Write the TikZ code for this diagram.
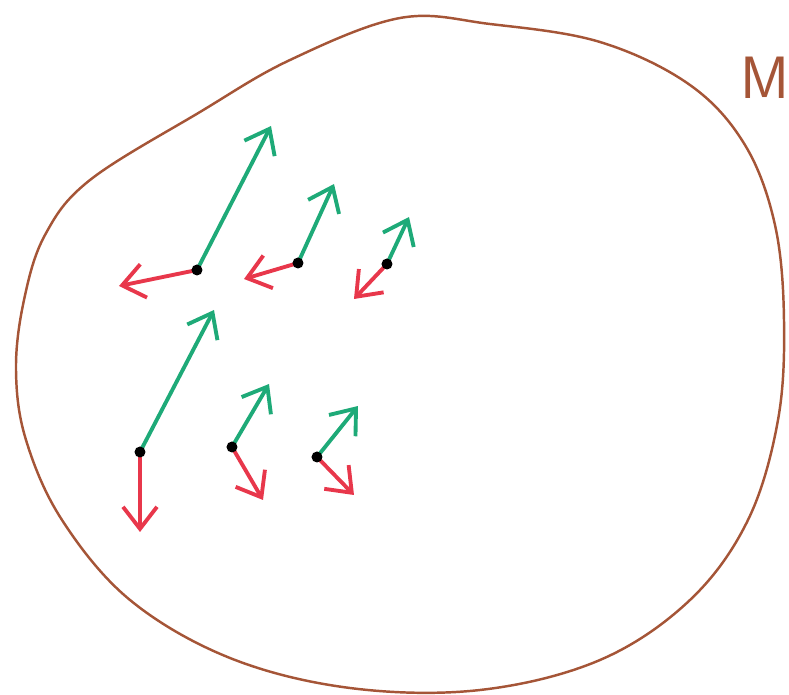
\documentclass[tikz,border=0pt]{standalone}
\usepackage{tikz}
\usetikzlibrary{arrows.meta,positioning}
\definecolor{inkbrown}{RGB}{165,85,55}
\definecolor{inkgreen}{RGB}{30,170,120}
\definecolor{inkred}{RGB}{232,55,75}
\tikzset{pt/.style={circle, fill=black, inner sep=0pt, minimum size=1.1mm}, gvec/.style={-{Straight Barb[length=2.2mm,width=3.4mm]}, inkgreen, line width=1.1pt, line cap=round}, rvec/.style={-{Straight Barb[length=2.2mm,width=3.4mm]}, inkred, line width=1.1pt, line cap=round}}
\begin{document}
\begin{tikzpicture}[x=0.1mm, y=-0.1mm]
\useasboundingbox (0,0) rectangle (789,695);
% manifold outline
\draw[inkbrown, line width=0.7pt] plot[smooth cycle, tension=0.6] coordinates {(90,180) (200,112) (290,60) (400,18) (490,24) (600,42) (690,85) (745,145) (775,225) (784,320) (778,420) (748,520) (690,600) (600,660) (480,690) (350,688) (230,658) (130,600) (62,520) (26,440) (16,370) (24,300) (45,235)};
\node[inkbrown, font=\fontsize{17}{19}\sffamily] (lab) at (765,78) {M};
% vector tips
\coordinate (g1) at (271,126);
\coordinate (r1) at (119,286);
\coordinate (g2) at (334,184);
\coordinate (r2) at (244,279);
\coordinate (g3) at (409,217);
\coordinate (r3) at (354,299);
\coordinate (g4) at (214,310);
\coordinate (r4) at (140,532);
\coordinate (g5) at (269,384);
\coordinate (r5) at (263,500);
\coordinate (g6) at (358,406);
\coordinate (r6) at (354,495);
% base points
\coordinate (b1) at (197,270);
\coordinate (b2) at (298,263);
\coordinate (b3) at (387,264);
\coordinate (b4) at (140,452);
\coordinate (b5) at (232,447);
\coordinate (b6) at (317,457);
\draw[gvec] (b1) -- (g1);
\draw[rvec] (b1) -- (r1);
\draw[gvec] (b2) -- (g2);
\draw[rvec] (b2) -- (r2);
\draw[gvec] (b3) -- (g3);
\draw[rvec] (b3) -- (r3);
\draw[gvec] (b4) -- (g4);
\draw[rvec] (b4) -- (r4);
\draw[gvec] (b5) -- (g5);
\draw[rvec] (b5) -- (r5);
\draw[gvec] (b6) -- (g6);
\draw[rvec] (b6) -- (r6);
% points on top
\node[pt] (p1) at (b1) {};
\node[pt] (p2) at (b2) {};
\node[pt] (p3) at (b3) {};
\node[pt] (p4) at (b4) {};
\node[pt] (p5) at (b5) {};
\node[pt] (p6) at (b6) {};
\end{tikzpicture}
\end{document}
